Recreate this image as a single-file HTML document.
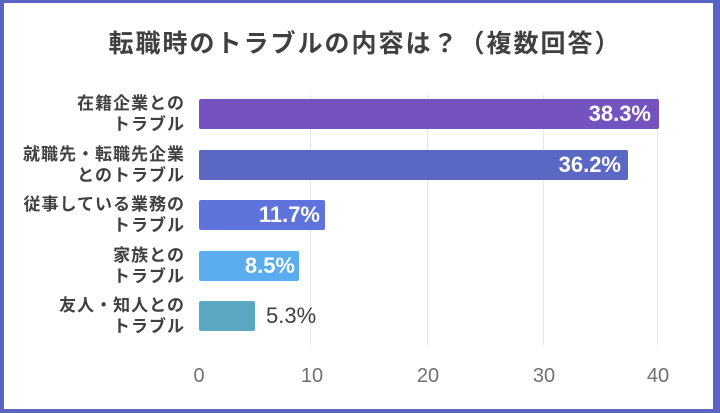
<!DOCTYPE html>
<html><head><meta charset="utf-8"><style>
*{margin:0;padding:0;box-sizing:border-box}
body{width:720px;height:413px;background:#5a64c2;position:relative;overflow:hidden;font-family:"Liberation Sans","Noto Sans CJK JP",sans-serif}
#c{position:absolute;left:4px;top:3px;width:709px;height:406px;background:#fff}
.a{position:absolute}
.t{left:0;width:730px;top:24px;text-align:center;font-size:25px;color:#404040;font-weight:bold;letter-spacing:2px}
.g{width:1px;top:95px;height:250px;background:#e6e6e6}
.b{height:30px;border-radius:2px}
.v{font-size:22px;font-weight:bold;color:#fff;text-align:right;height:30px;line-height:30px}
.l{right:535px;text-align:right;font-size:17px;line-height:21px;color:#404040;font-weight:bold;letter-spacing:1px;white-space:nowrap}
.x{top:365px;font-size:20px;color:#707070;width:40px;margin-left:-20px;text-align:center}
</style></head><body>
<div class="a t">転職時のトラブルの内容は？（複数回答）</div>
<div class="a g" style="left:310px"></div>
<div class="a g" style="left:427px"></div>
<div class="a g" style="left:543px"></div>
<div class="a g" style="left:657px"></div>
<div class="a b" style="left:199px;top:99px;width:460px;background:#7452c0"></div>
<div class="a v" style="left:199px;top:99px;width:452px">38.3%</div>
<div class="a b" style="left:199px;top:150px;width:429px;background:#5a68c4"></div>
<div class="a v" style="left:199px;top:150px;width:422px">36.2%</div>
<div class="a b" style="left:199px;top:200px;width:126px;background:#5f73dc"></div>
<div class="a v" style="left:199px;top:200px;width:121px">11.7%</div>
<div class="a b" style="left:199px;top:251px;width:100px;background:#5aaef0"></div>
<div class="a v" style="left:199px;top:251px;width:96px">8.5%</div>
<div class="a b" style="left:199px;top:301px;width:56px;background:#5aa8c2"></div>
<div class="a v" style="left:266px;top:301px;width:70px;text-align:left;color:#404040;font-weight:normal">5.3%</div>
<div class="a l" style="top:93px">在籍企業との<br>トラブル</div>
<div class="a l" style="top:144px">就職先・転職先企業<br>とのトラブル</div>
<div class="a l" style="top:194px">従事している業務の<br>トラブル</div>
<div class="a l" style="top:245px">家族との<br>トラブル</div>
<div class="a l" style="top:295px">友人・知人との<br>トラブル</div>
<div class="a x" style="left:199px">0</div>
<div class="a x" style="left:312px">10</div>
<div class="a x" style="left:428px">20</div>
<div class="a x" style="left:544px">30</div>
<div class="a x" style="left:658px">40</div>
<div id="c" style="z-index:-1"></div>
</body></html>
